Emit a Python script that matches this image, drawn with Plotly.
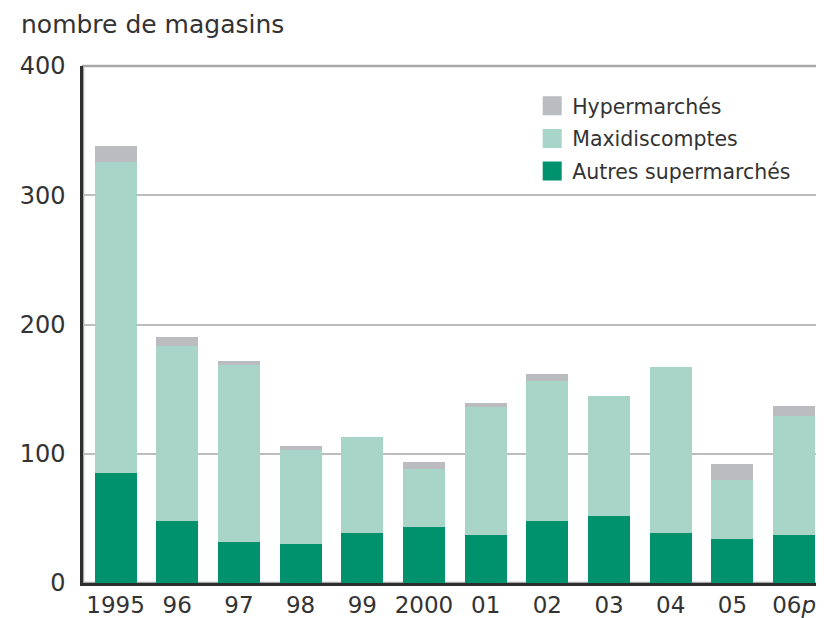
import plotly.graph_objects as go

years = ["1995", "96", "97", "98", "99", "2000", "01", "02", "03", "04", "05", "06<i>p</i>"]
autres = [85, 48, 32, 30, 39, 43, 37, 48, 52, 39, 34, 37]
maxi = [241, 135, 137, 73, 74, 45, 99, 108, 93, 128, 46, 92]
hyper = [12, 7, 3, 3, 0, 6, 3, 6, 0, 0, 12, 8]

c_autres = "#00916d"
c_maxi = "#a9d5c9"
c_hyper = "#bbbcc0"
txt = "#333333"
font = "DejaVu Sans"

fig = go.Figure()
for name, vals, col in [("Autres supermarchés", autres, c_autres),
                        ("Maxidiscomptes", maxi, c_maxi),
                        ("Hypermarchés", hyper, c_hyper)]:
    fig.add_trace(go.Bar(x=years, y=vals, name=name, marker_color=col,
                         marker_line_width=0, showlegend=False))

for i, (name, col) in enumerate([("Hypermarchés", c_hyper), ("Maxidiscomptes", c_maxi),
                                  ("Autres supermarchés", c_autres)]):
    fig.add_trace(go.Scatter(x=[None], y=[None], mode="markers", name=name,
                             legendgroup=f"g{i}",
                             marker=dict(symbol="square", size=20, color=col,
                                         line=dict(color=col, width=3))))

# page body has an 8px margin; the figure is sized to fill the rest of the window
fig.update_layout(
    barmode="stack",
    bargap=0.32,
    width=816, height=610,
    margin=dict(l=75, r=4, t=58, b=35, autoexpand=False),
    paper_bgcolor="white", plot_bgcolor="white",
    font=dict(family=font, size=23, color=txt),
    legend=dict(x=0.6095, y=0.9615, xanchor="left", yanchor="top",
                traceorder="grouped", font=dict(size=20.5, color=txt),
                bgcolor="rgba(0,0,0,0)", tracegroupgap=3, itemwidth=30),
    shapes=[dict(type="rect", xref="paper", yref="paper", x0=0, x1=1, y0=0, y1=1,
                 line=dict(color="#a8a8a8", width=2.5), layer="below")],
    annotations=[dict(text="nombre de magasins", xref="paper", yref="paper",
                      x=-0.087, y=1.081, xanchor="left", yanchor="middle",
                      showarrow=False, font=dict(size=25, color=txt, family=font))],
)
fig.update_xaxes(type="category", range=[-0.528, 11.42], showline=True,
                 linecolor="#2e2e2e", linewidth=2.5, ticks="", showgrid=False,
                 automargin=False,
                 tickfont=dict(size=23, color=txt), ticklabelstandoff=0)
fig.update_yaxes(range=[0, 400], tickvals=[0, 100, 200, 300, 400], showline=True,
                 linecolor="#2e2e2e", linewidth=2.5, ticks="", showgrid=True,
                 automargin=False,
                 gridcolor="#bdbdbd", gridwidth=1.5, zeroline=False,
                 tickfont=dict(size=24, color=txt), ticklabelstandoff=10)

fig.write_html("out.html")
